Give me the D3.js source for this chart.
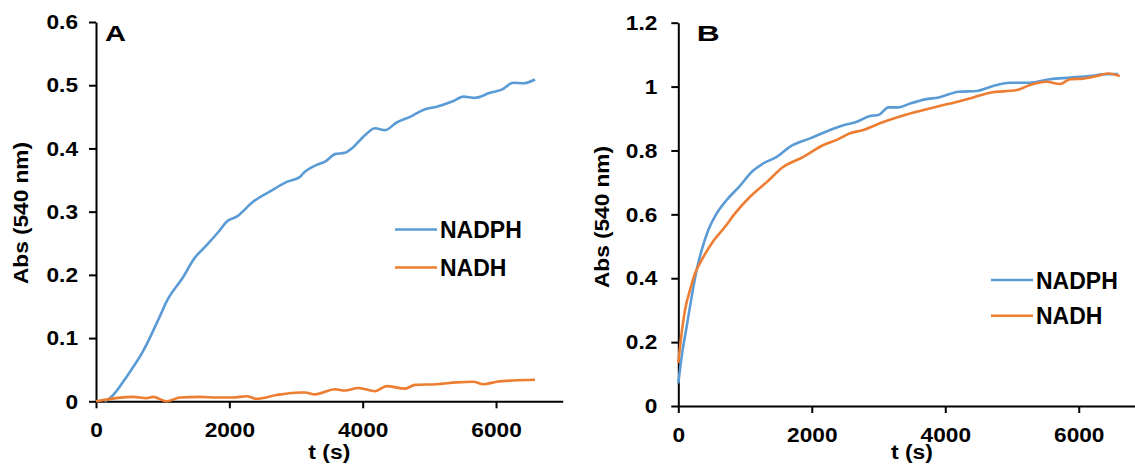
<!DOCTYPE html>
<html>
<head>
<meta charset="utf-8">
<script src="https://cdn.jsdelivr.net/npm/d3@7"></script>
<style>
  body { margin: 0; background: #fff; }
  svg { display: block; font-family: "Liberation Sans", Arial, sans-serif; }
  .axis path, .axis line { stroke: #000; stroke-width: 2px; }
  .axis text { font-size: 21px; font-weight: bold; fill: #000; font-family: "Liberation Sans", Arial, sans-serif; }
</style>
</head>
<body>
<div id="chart"></div>
<script>
// panel A: time (s) and absorbance at 540 nm
const tA_nadph = [130, 210, 460, 710, 960, 1060, 1310, 1460, 1660, 1860, 1960, 2110, 2360, 2610, 2860, 3060, 3110, 3310, 3435, 3585, 3735, 3835, 4035, 4185, 4335, 4510, 4710, 4935, 5110, 5360, 5510, 5685, 5910, 6085, 6260, 6410, 6585];
const vA_nadph = [0, 0.005, 0.039, 0.080, 0.135, 0.158, 0.197, 0.224, 0.247, 0.271, 0.284, 0.292, 0.316, 0.332, 0.347, 0.355, 0.361, 0.374, 0.379, 0.391, 0.393, 0.400, 0.421, 0.432, 0.429, 0.441, 0.450, 0.462, 0.466, 0.475, 0.482, 0.480, 0.488, 0.493, 0.504, 0.503, 0.509];
const tA_nadh = [0, 560, 760, 855, 1060, 1260, 1560, 1810, 2060, 2260, 2410, 2710, 3060, 3135, 3285, 3585, 3735, 3935, 4185, 4360, 4635, 4785, 5110, 5410, 5660, 5810, 6010, 6260, 6585];
const vA_nadh = [0, 0.007, 0.005, 0.007, 0.000, 0.006, 0.007, 0.006, 0.006, 0.008, 0.004, 0.010, 0.014, 0.014, 0.011, 0.019, 0.017, 0.021, 0.016, 0.024, 0.020, 0.026, 0.027, 0.030, 0.031, 0.027, 0.031, 0.033, 0.034];

// panel B
const tB_nadph = [0, 50, 125, 200, 275, 350, 450, 575, 725, 910, 1110, 1275, 1475, 1675, 1975, 2275, 2475, 2675, 2875, 3000, 3150, 3300, 3475, 3700, 3900, 4200, 4470, 4670, 4970, 5270, 5570, 5870, 6165, 6420, 6590];
const vB_nadph = [0.071, 0.154, 0.248, 0.342, 0.426, 0.488, 0.551, 0.603, 0.645, 0.686, 0.735, 0.760, 0.780, 0.812, 0.838, 0.864, 0.879, 0.890, 0.908, 0.911, 0.935, 0.935, 0.947, 0.960, 0.966, 0.984, 0.986, 0.999, 1.012, 1.012, 1.023, 1.028, 1.033, 1.039, 1.039];
const tB_nadh = [0, 50, 100, 175, 250, 350, 500, 700, 850, 1075, 1320, 1575, 1875, 2175, 2375, 2575, 2770, 3020, 3320, 3570, 3870, 4170, 4420, 4670, 5070, 5270, 5520, 5720, 5870, 6070, 6270, 6440, 6615];
const vB_nadh = [0.134, 0.228, 0.300, 0.363, 0.415, 0.457, 0.509, 0.561, 0.603, 0.655, 0.700, 0.749, 0.780, 0.817, 0.833, 0.854, 0.864, 0.885, 0.906, 0.921, 0.937, 0.952, 0.966, 0.981, 0.989, 1.005, 1.015, 1.008, 1.023, 1.025, 1.033, 1.041, 1.033];

const xTicks = [0, 2000, 4000, 6000];
const yTicksA = [0, 0.1, 0.2, 0.3, 0.4, 0.5, 0.6];
const yTicksB = [0, 0.2, 0.4, 0.6, 0.8, 1, 1.2];
const seriesNames = ["NADPH", "NADH"];
const colors = ["#5b9bd5", "#ed7d31"];

const stretch = 1.08; // tick labels in the figure are a bit wide

const svg = d3.select("#chart").append("svg")
    .attr("width", 1135)
    .attr("height", 469);

const zip = (ts, vs) => ts.map((t, i) => ({ t: t, v: vs[i] }));

function drawPanel(opts) {
    const x = d3.scaleLinear().domain([0, 7000]).range([opts.left, opts.right]);
    const y = d3.scaleLinear().domain([0, opts.yMax]).range([opts.bottom, opts.top]);

    const gx = svg.append("g")
        .attr("class", "axis")
        .attr("transform", `translate(0,${opts.bottom})`)
        .call(d3.axisBottom(x).tickValues(xTicks).tickSize(7).tickSizeOuter(0).tickPadding(14).tickFormat(d3.format("d")));
    gx.selectAll("text").attr("transform", `scale(${stretch},1)`);

    const gy = svg.append("g")
        .attr("class", "axis")
        .attr("transform", `translate(${opts.left},0)`)
        .call(d3.axisLeft(y).tickValues(opts.yTicks).tickSize(7).tickSizeOuter(0).tickPadding(opts.yPad).tickFormat(d => d3.format("")(+d.toFixed(1))));
    gy.selectAll("text")
        .attr("x", -(7 + opts.yPad) / stretch)
        .attr("transform", `scale(${stretch},1)`);

    const line = d3.line()
        .x(d => x(d.t))
        .y(d => y(d.v))
        .curve(d3.curveMonotoneX);

    opts.series.forEach((s, i) => {
        svg.append("path")
            .datum(s)
            .attr("fill", "none")
            .attr("stroke", colors[i])
            .attr("stroke-width", 2.6)
            .attr("stroke-linejoin", "round")
            .attr("d", line);
    });

    // panel letter
    svg.append("text")
        .attr("x", opts.left + opts.letterDx)
        .attr("y", 41)
        .attr("font-size", 22)
        .attr("font-weight", "bold")
        .attr("textLength", opts.letterLen)
        .attr("lengthAdjust", "spacingAndGlyphs")
        .text(opts.letter);

    // axis titles
    svg.append("text")
        .attr("transform", `translate(${opts.yLabelX},${opts.yLabelY}) rotate(-90)`)
        .attr("text-anchor", "middle")
        .attr("font-size", 20)
        .attr("font-weight", "bold")
        .attr("textLength", 142)
        .attr("lengthAdjust", "spacingAndGlyphs")
        .text("Abs (540 nm)");

    svg.append("text")
        .attr("x", (opts.left + opts.right) / 2)
        .attr("y", 459)
        .attr("text-anchor", "middle")
        .attr("font-size", 20)
        .attr("font-weight", "bold")
        .attr("textLength", 42)
        .attr("lengthAdjust", "spacingAndGlyphs")
        .text("t (s)");

    // legend
    seriesNames.forEach((name, i) => {
        const ly = opts.legendY + i * opts.legendGap;
        svg.append("line")
            .attr("x1", opts.legendX)
            .attr("x2", opts.legendX + 42)
            .attr("y1", ly)
            .attr("y2", ly)
            .attr("stroke", colors[i])
            .attr("stroke-width", 2.6);
        svg.append("text")
            .attr("x", opts.legendX + 45)
            .attr("y", ly + 8.5)
            .attr("font-size", 23)
            .attr("font-weight", "bold")
            .attr("fill", "#000")
            .text(name);
    });
}

drawPanel({
    left: 96, right: 562.7, top: 22, bottom: 401.3, yMax: 0.6,
    yTicks: yTicksA, yPad: 11, letter: "A", letterDx: 9, letterLen: 21,
    yLabelX: 28, yLabelY: 213,
    legendX: 395, legendY: 229.5, legendGap: 38,
    series: [zip(tA_nadph, vA_nadph), zip(tA_nadh, vA_nadh)]
});

drawPanel({
    left: 678.3, right: 1145.5, top: 22.7, bottom: 406, yMax: 1.2,
    yTicks: yTicksB, yPad: 14, letter: "B", letterDx: 18.5, letterLen: 23,
    yLabelX: 609, yLabelY: 217,
    legendX: 991, legendY: 280, legendGap: 35.7,
    series: [zip(tB_nadph, vB_nadph), zip(tB_nadh, vB_nadh)]
});
</script>
</body>
</html>
